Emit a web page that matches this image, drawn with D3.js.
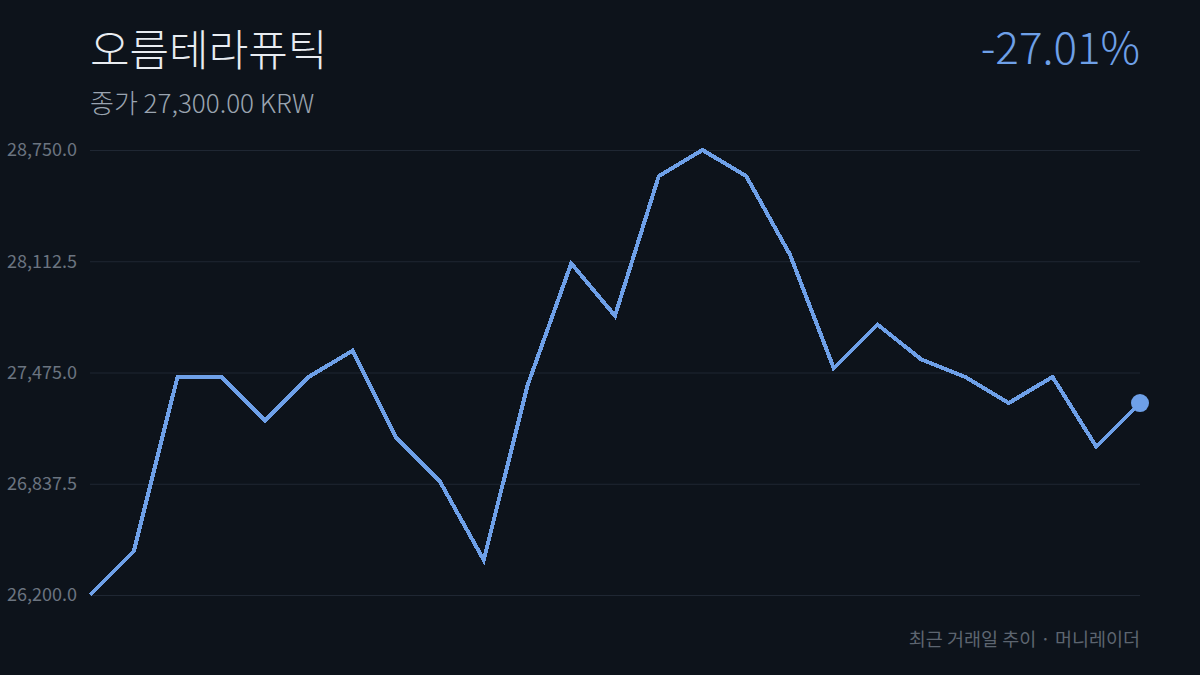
<!DOCTYPE html>
<html>
<head>
<meta charset="utf-8">
<script src="https://cdn.jsdelivr.net/npm/d3@7"></script>
<style>
  html, body { margin: 0; padding: 0; background: #0d131b; }
  svg { display: block; font-family: "Noto Sans CJK KR", "Noto Sans", sans-serif; }
</style>
</head>
<body>
<div id="chart-container"></div>
<script>
// recent trading days close prices (KRW)
const prices = [26200, 26450, 27450, 27450, 27200, 27450, 27600, 27100, 26850, 26400,
                27400, 28100, 27800, 28600, 28750, 28600, 28150, 27500, 27750, 27550,
                27450, 27300, 27450, 27050, 27300];
const yTicks = [26200, 26837.5, 27475, 28112.5, 28750];
const title = '오름테라퓨틱';
const subtitle = '종가 27,300.00 KRW';
const change = '-27.01%';
const footer = '최근 거래일 추이 · 머니레이더';

const width = 1200, height = 675;
const margin = {top: 150, right: 60, bottom: 80, left: 90};

const svg = d3.select('#chart-container')
    .append('svg')
    .attr('width', width)
    .attr('height', height);

svg.append('rect')
    .attr('width', width)
    .attr('height', height)
    .attr('fill', '#0d131b');

const x = d3.scaleLinear()
    .domain([0, prices.length - 1])
    .range([margin.left, width - margin.right]);

const y = d3.scaleLinear()
    .domain([26200, 28750])
    .range([height - margin.bottom, margin.top]);

// grid + labels
const yAxis = g => g
    .attr('transform', `translate(${margin.left},0)`)
    .call(d3.axisLeft(y)
        .tickValues(yTicks)
        .tickSize(-(width - margin.left - margin.right))
        .tickPadding(13)
        .tickFormat(d3.format(',.1f')))
    .call(g => g.select('.domain').remove())
    .call(g => g.selectAll('.tick line').attr('stroke', '#1f2733').attr('stroke-width', 1))
    .call(g => g.selectAll('.tick text')
        .attr('fill', '#6b7480')
        .attr('font-size', 18)
        .attr('font-family', '"Noto Sans CJK KR", sans-serif'));

svg.append('g').call(yAxis);

const line = d3.line()
    .x((d, i) => x(i))
    .y(d => y(d));

svg.append('path')
    .datum(prices)
    .attr('fill', 'none')
    .attr('stroke', '#6ea0e8')
    .attr('stroke-width', 4)
    .attr('shape-rendering', 'crispEdges')
    .attr('d', line);

const last = prices.length - 1;
svg.append('circle')
    .attr('cx', x(last))
    .attr('cy', y(prices[last]))
    .attr('r', 9)
    .attr('fill', '#6ea0e8');

// header texts
svg.append('text')
    .attr('x', 90).attr('y', 66)
    .attr('fill', '#e8ecf1')
    .attr('font-size', 43)
    .attr('font-weight', 300)
    .text(title);

svg.append('text')
    .attr('x', 90).attr('y', 113)
    .attr('fill', '#9aa4b0')
    .attr('font-size', 26)
    .attr('font-weight', 300)
    .text(subtitle);

svg.append('text')
    .attr('x', 1140).attr('y', 64)
    .attr('text-anchor', 'end')
    .attr('fill', '#6ea0e8')
    .attr('font-size', 44)
    .attr('font-weight', 300)
    .text(change);

svg.append('text')
    .attr('x', 1140).attr('y', 646)
    .attr('text-anchor', 'end')
    .attr('fill', '#5d6570')
    .attr('font-size', 18.5)
    .text(footer);
</script>
</body>
</html>
